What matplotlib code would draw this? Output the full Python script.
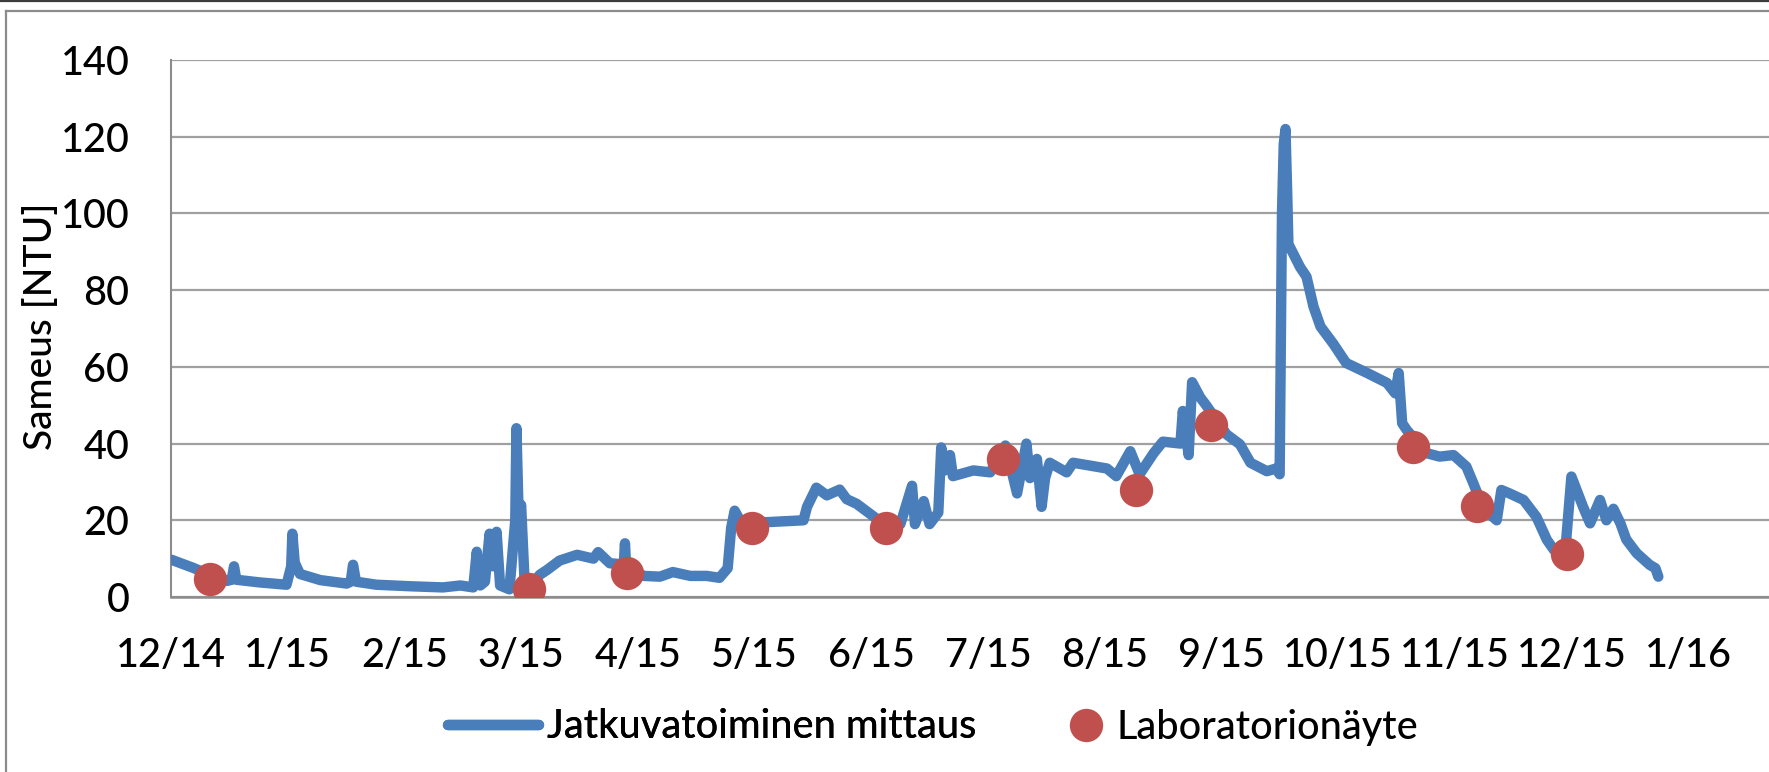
import matplotlib.pyplot as plt
from matplotlib.lines import Line2D

plt.rcParams['font.family'] = ['Lato', 'DejaVu Sans']
plt.rcParams['font.weight'] = 'medium'

# x axis in months counted from 1 Dec 2014 (0 = 12/14 ... 13 = 1/16)
month_labels = ['12/14', '1/15', '2/15', '3/15', '4/15', '5/15', '6/15',
                '7/15', '8/15', '9/15', '10/15', '11/15', '12/15', '1/16']

meas_t = [0.005, 0.19, 0.33, 0.48, 0.52, 0.54, 0.56, 0.76, 0.99, 1.03, 1.04, 1.06,
          1.105, 1.28, 1.505, 1.54, 1.56, 1.585, 1.76, 2.05, 2.33, 2.48, 2.59, 2.62,
          2.65, 2.69, 2.73, 2.76, 2.79, 2.82, 2.90, 2.95, 2.96, 2.98, 3.00, 3.03,
          3.08, 3.16, 3.22, 3.33, 3.48, 3.62, 3.66, 3.76, 3.88, 3.89, 3.90, 4.05,
          4.19, 4.30, 4.45, 4.59, 4.70, 4.77, 4.80, 4.83, 4.875, 5.10, 5.42, 5.45,
          5.53, 5.62, 5.73, 5.79, 5.875, 6.02, 6.13, 6.25, 6.30, 6.35, 6.375, 6.45,
          6.50, 6.575, 6.60, 6.63, 6.675, 6.70, 6.875, 7.02, 7.15, 7.25, 7.33, 7.36,
          7.42, 7.46, 7.49, 7.53, 7.675, 7.73, 8.02, 8.10, 8.22, 8.30, 8.42, 8.50,
          8.65, 8.67, 8.72, 8.75, 8.82, 8.87, 9.045, 9.16, 9.25, 9.39, 9.47, 9.50,
          9.52, 9.535, 9.55, 9.565, 9.575, 9.675, 9.73, 9.79, 9.85, 9.96, 10.07, 10.25,
          10.42, 10.49, 10.52, 10.55, 10.59, 10.76, 10.87, 10.99, 11.10, 11.16, 11.245,
          11.36, 11.40, 11.47, 11.59, 11.70, 11.79, 11.85, 11.93, 11.945, 12.00, 12.10,
          12.16, 12.245, 12.30, 12.36, 12.42, 12.47, 12.56, 12.67, 12.72, 12.745]
meas_v = [9.7, 7.6, 5.8, 4.2, 4.5, 8, 4.5, 3.8, 3.2, 8, 16.5, 9,
          6, 4.4, 3.5, 4, 8.4, 4, 3.2, 2.8, 2.5, 3, 2.5, 11.8,
          3, 4, 16.5, 8, 17, 3, 2, 20, 44, 20, 24, 4,
          2.5, 5.8, 7, 9.5, 11, 10, 11.7, 8.8, 8.5, 14, 8, 5.5,
          5.3, 6.5, 5.5, 5.5, 5, 7.5, 18, 22.5, 20, 19.5, 20, 23.5,
          28.5, 26.5, 28, 25.5, 24.3, 21, 18.5, 19, 24, 29, 19, 25,
          19, 22, 39, 33, 37, 31.5, 33, 32.5, 39.5, 27, 40, 31,
          36, 23.5, 31, 35, 32.5, 35, 33.5, 31.5, 38, 32, 37.5, 40.5,
          40, 48.5, 37, 56, 52, 50, 42.4, 39.8, 35, 32.8, 33.5, 32,
          100, 118, 122, 105, 92, 86, 83.5, 75.7, 70.5, 66, 61, 58.4,
          55.8, 53.1, 58.4, 45.3, 43.5, 37.5, 36.6, 37, 34, 29.6, 23.2,
          20, 27.9, 27, 25.3, 20.9, 14.9, 12.3, 10.5, 11, 31.4, 23.5,
          19.2, 25.3, 20, 23, 19.2, 15, 11.4, 8.4, 7.5, 5.3]

# laboratory samples
lab_t = [0.33, 3.07, 3.91, 4.98, 6.13, 7.13, 8.27, 8.91, 10.645, 11.19, 11.96]
lab_v = [4.7, 2.0, 6.2, 17.9, 17.9, 36.0, 27.9, 44.8, 39.0, 23.8, 11.1]

W, H = 1769, 772
fs = 28.5
fig = plt.figure(figsize=(W / 100, H / 100), dpi=100)
# plot area runs past the right edge of the picture (cropped chart)
ax = fig.add_axes([171 / W, 175 / H, 14.5 * 116.7 / W, 537 / H])

line, = ax.plot(meas_t, meas_v, color='#4A7EBB', lw=7.5,
                solid_joinstyle='round', solid_capstyle='round', zorder=3)
dots, = ax.plot(lab_t, lab_v, 'o', color='#C0504D', ms=24, mec='none', zorder=4)

ax.set_xlim(0, 14.5)
ax.set_ylim(0, 140)
ax.set_yticks(range(0, 141, 20))
ax.set_xticks(range(len(month_labels)))
ax.set_xticklabels(month_labels)
ax.grid(axis='y', color='#A0A0A0', lw=1.6)
ax.set_axisbelow(True)
for s in ['top', 'right']:
    ax.spines[s].set_visible(False)
ax.spines['left'].set_color('#8C8C8C')
ax.spines['left'].set_linewidth(1.5)
ax.spines['bottom'].set_color('#8C8C8C')
ax.spines['bottom'].set_linewidth(1.8)
ax.tick_params(length=0, labelsize=fs, colors='black')
ax.tick_params(axis='y', pad=30)
ax.tick_params(axis='x', pad=29)

fig.text(41 / W, (H - 326) / H, 'Sameus [NTU]', rotation=90, ha='center',
         va='center', fontsize=28)

leg1 = fig.legend([line], ['Jatkuvatoiminen mittaus'], loc='center left',
                  bbox_to_anchor=(448 / W, 45 / H), frameon=False, fontsize=fs,
                  handlelength=2.3, handletextpad=0.2, borderpad=0, borderaxespad=0)
leg2 = fig.legend([dots], ['Laboratorionäyte'], loc='center left',
                  bbox_to_anchor=(1068 / W, 45 / H), frameon=False, fontsize=fs,
                  handlelength=0.9, handletextpad=0.32, borderpad=0, borderaxespad=0,
                  numpoints=1)
fig.add_artist(leg1)

# chart frame: dark line on top, grey chart-area border
fig.add_artist(Line2D([0, 1], [1 - 1 / H, 1 - 1 / H], transform=fig.transFigure,
                      color='#3C3C3C', lw=1.6))
fig.add_artist(Line2D([5.5 / W, 1], [1 - 10.5 / H, 1 - 10.5 / H],
                      transform=fig.transFigure, color='#8C8C8C', lw=1.6))
fig.add_artist(Line2D([5.5 / W, 5.5 / W], [0, 1 - 10.5 / H],
                      transform=fig.transFigure, color='#8C8C8C', lw=1.6))

fig.savefig('out.png', dpi=100)
